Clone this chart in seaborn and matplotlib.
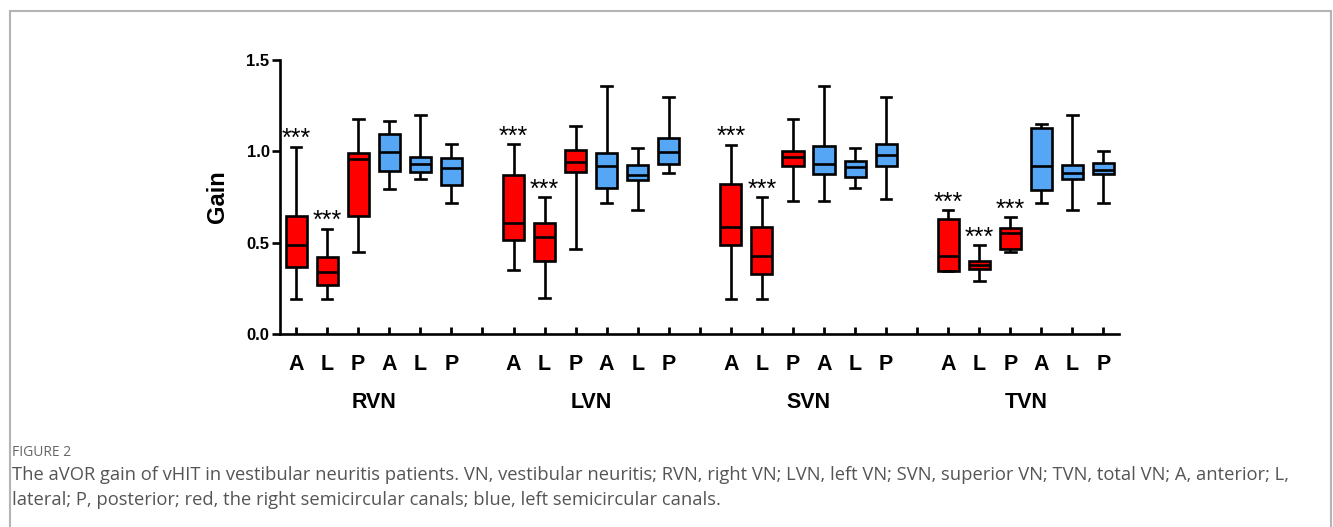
import numpy as np
import pandas as pd
import matplotlib
matplotlib.use("Agg")
import matplotlib.pyplot as plt
import seaborn as sns
from matplotlib.patches import Rectangle

# ---------------- data ----------------
groups = ["RVN", "LVN", "SVN", "TVN"]
canals = ["A", "L", "P", "A", "L", "P"]
sides = ["Right", "Right", "Right", "Left", "Left", "Left"]

# five-number summaries per box: (min, Q1, median, Q3, max), in canal order
rvn_stats = [(0.19, 0.365, 0.489, 0.646, 1.025),
             (0.19, 0.270, 0.337, 0.423, 0.577),
             (0.449, 0.648, 0.960, 0.993, 1.177),
             (0.796, 0.892, 0.998, 1.096, 1.168),
             (0.847, 0.887, 0.932, 0.969, 1.197),
             (0.719, 0.815, 0.909, 0.963, 1.038)]
lvn_stats = [(0.350, 0.516, 0.609, 0.870, 1.038),
             (0.199, 0.401, 0.529, 0.606, 0.748),
             (0.467, 0.887, 0.940, 1.007, 1.138),
             (0.719, 0.797, 0.918, 0.991, 1.357),
             (0.677, 0.841, 0.869, 0.923, 1.016),
             (0.879, 0.932, 0.998, 1.073, 1.297)]
svn_stats = [(0.19, 0.487, 0.587, 0.819, 1.036),
             (0.19, 0.327, 0.427, 0.586, 0.748),
             (0.728, 0.918, 0.971, 1.002, 1.177),
             (0.728, 0.876, 0.930, 1.027, 1.357),
             (0.797, 0.858, 0.912, 0.949, 1.016),
             (0.737, 0.920, 0.980, 1.038, 1.297)]
tvn_stats = [(0.347, 0.347, 0.427, 0.628, 0.677),
             (0.288, 0.354, 0.378, 0.400, 0.485),
             (0.447, 0.465, 0.551, 0.578, 0.639),
             (0.717, 0.786, 0.918, 1.129, 1.149),
             (0.677, 0.847, 0.879, 0.927, 1.197),
             (0.717, 0.876, 0.898, 0.938, 1.000)]
all_stats = [rvn_stats, lvn_stats, svn_stats, tvn_stats]

# significance marks (*** over these canal indices)
sig_marks = {"RVN": [0, 1], "LVN": [0, 1], "SVN": [0, 1], "TVN": [0, 1, 2]}

caption_title = "FIGURE 2"
caption_lines = [
    "The aVOR gain of vHIT in vestibular neuritis patients. VN, vestibular neuritis; RVN, right VN; LVN, left VN; SVN, superior VN; TVN, total VN; A, anterior; L,",
    "lateral; P, posterior; red, the right semicircular canals; blue, left semicircular canals.",
]

# ---------------- build table ----------------
SLOT = 7  # 6 boxes + 1 empty slot per group
rows = []
for g, (gname, stats) in enumerate(zip(groups, all_stats)):
    for i, five in enumerate(stats):
        for v in five:
            rows.append({"pos": g * SLOT + i, "gain": v, "side": sides[i],
                         "group": gname, "canal": canals[i]})
df = pd.DataFrame(rows)

# ---------------- figure ----------------
W, H = 1333, 527
fig = plt.figure(figsize=(W / 100, H / 100), dpi=100)
fig.patch.set_facecolor("white")

L, R, B, T = 280, 1119, 334, 60
ax = fig.add_axes([L / W, 1 - B / H, (R - L) / W, (B - T) / H])

palette = {"Right": "#FF0000", "Left": "#56A6F6"}
sns.boxplot(data=df, x="pos", y="gain", hue="side", palette=palette,
            dodge=False, native_scale=True, width=0.68, whis=(0, 100),
            linewidth=1.9, linecolor="black", showfliers=False,
            saturation=1, legend=False, ax=ax)

n_slots = len(groups) * SLOT - 1
ax.set_xlim(-0.52, n_slots - 0.5)
ax.set_ylim(0, 1.5)
ax.set_yticks([0.0, 0.5, 1.0, 1.5])
ax.set_yticklabels(["0.0", "0.5", "1.0", "1.5"])

ticks = list(range(n_slots))
labels = []
for p in ticks:
    i = p % SLOT
    labels.append(canals[i] if i < len(canals) else "")
ax.set_xticks(ticks)
ax.set_xticklabels(labels)

font = "Liberation Sans"
for lab in ax.get_xticklabels():
    lab.set_fontfamily(font)
    lab.set_fontweight("bold")
    lab.set_fontsize(15.5)
for lab in ax.get_yticklabels():
    lab.set_fontfamily(font)
    lab.set_fontweight("bold")
    lab.set_fontsize(12)

ax.tick_params(axis="x", direction="in", length=5, width=2, pad=14.5, color="black")
ax.tick_params(axis="y", direction="out", length=6, width=1.9, pad=1.5, color="black")
for s in ["top", "right"]:
    ax.spines[s].set_visible(False)
for s in ["left", "bottom"]:
    ax.spines[s].set_linewidth(1.9)
    ax.spines[s].set_color("black")
ax.set_facecolor("white")
ax.grid(False)

ax.set_xlabel("")
ax.set_ylabel("Gain", fontfamily=font, fontweight="bold", fontsize=17)
ax.yaxis.set_label_coords(-51 / (R - L), 0.5)

# group labels
for g, gname in enumerate(groups):
    ax.annotate(gname, xy=(g * SLOT + 2.5, 0), xycoords=("data", "axes fraction"),
                xytext=(0, -49.5), textcoords="offset points", ha="center", va="center",
                fontfamily=font, fontweight="bold", fontsize=15.5)

# significance stars
for g, gname in enumerate(groups):
    for i in sig_marks[gname]:
        top = all_stats[g][i][4]
        ax.annotate("***", xy=(g * SLOT + i, top), xycoords="data",
                    xytext=(0, 0.5), textcoords="offset points", ha="center", va="baseline",
                    fontfamily=font, fontsize=18, color="black")

# figure frame
fig.add_artist(Rectangle((9.5 / W, -0.05), (1331.5 - 9.5) / W, (H - 10.5) / H + 0.05,
                         transform=fig.transFigure, fill=False,
                         edgecolor="#b4b4b4", linewidth=1.5))

# caption
fig.text(12 / W, 1 - 456 / H, caption_title, fontfamily="Open Sans", fontsize=10,
         color="#666666", va="baseline", ha="left")
for k, line in enumerate(caption_lines):
    fig.text(12 / W, 1 - (480 + 25 * k) / H, line, fontfamily="Open Sans", fontsize=13.2,
             color="#555555", va="baseline", ha="left")

fig.savefig("out.png", dpi=100, facecolor="white")
